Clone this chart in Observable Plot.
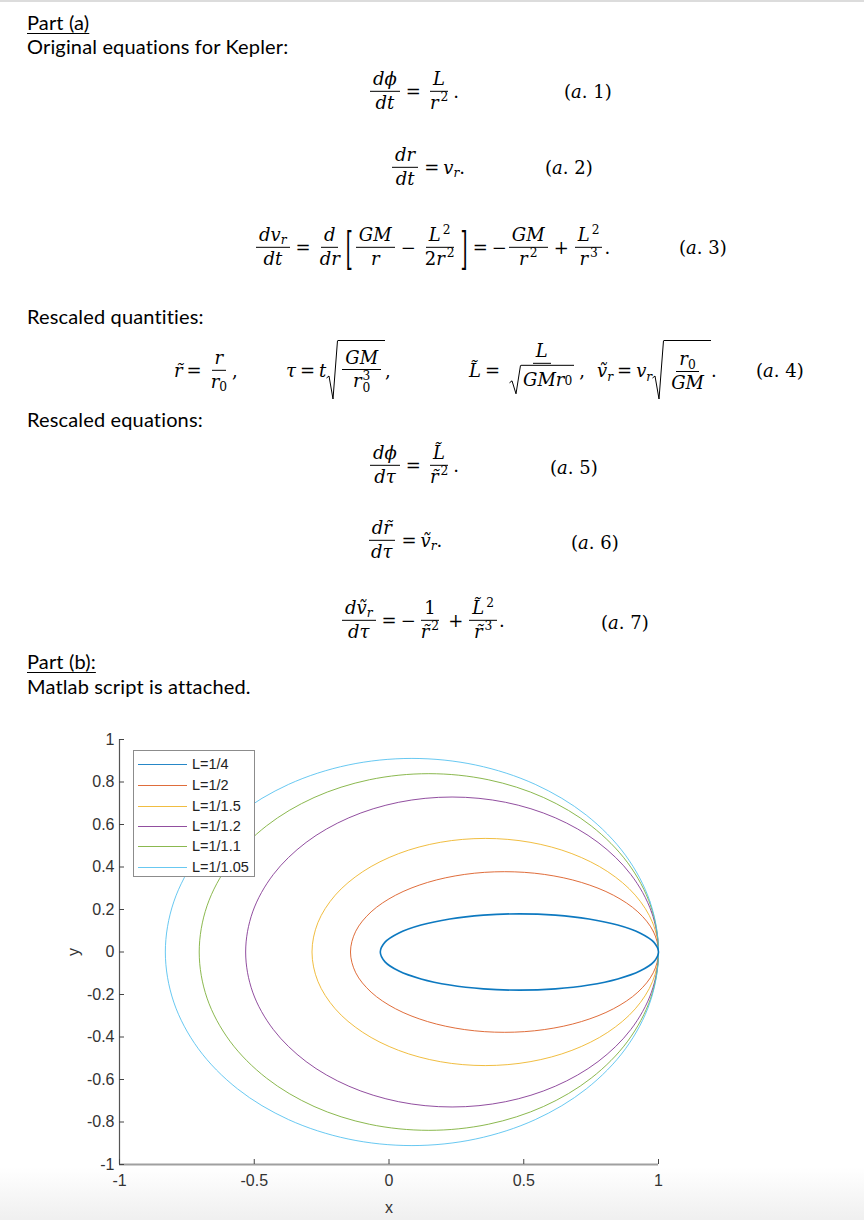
<!DOCTYPE html>
<html>
<head>
<meta charset="utf-8">
<script src="https://cdn.jsdelivr.net/npm/d3@7"></script>
<script src="https://cdn.jsdelivr.net/npm/@observablehq/plot@0.6"></script>
<style>
  html, body { margin:0; padding:0; background:#fff; }
  #page { position:relative; width:864px; height:1220px; overflow:hidden; background:#fff; border-top:2px solid #dcdcdc; box-sizing:border-box; }
  #fade { position:absolute; left:0; right:0; top:1165px; height:55px; background:linear-gradient(#ffffff, #efefef); }
  .t { position:absolute; left:27px; font-family:Lato, "Open Sans", sans-serif; font-size:20px; letter-spacing:0.15px; line-height:23px; color:#000; white-space:nowrap; }
  .ul { text-decoration:underline; text-underline-offset:3px; text-decoration-thickness:1px; }
  .eq { position:absolute; display:flex; align-items:center; transform:translateY(-50%); font-family:"DejaVu Serif", serif; font-style:italic; font-size:18px; color:#000; white-space:nowrap; }
  .u { font-style:normal; }
  .frac { display:inline-flex; flex-direction:column; align-items:center; margin:0 2px; }
  .frac > .n { padding:0 3px 1px; border-bottom:1px solid #000; line-height:1.15; }
  .frac > .d { padding:1px 3px 0; line-height:1.15; }
  .op { margin:0 4px; font-style:normal; }
  sup, sub { font-size:68%; line-height:0; }
  sup { margin-left:2px; vertical-align:0.6em; font-style:normal; }
  sub { font-style:normal; vertical-align:-0.3em; }
  .ss { display:inline-flex; flex-direction:column; font-size:68%; font-style:normal; line-height:0.95; vertical-align:0.6em; margin-left:1px; }
  .sqrt { display:inline-flex; align-items:stretch; }
  .sqrt svg { width:12px; flex:none; }
  .rc { border-top:1px solid #000; padding:1px 2px 0; display:inline-flex; align-items:center; }
  .br { font-style:normal; display:inline-block; transform:scaleY(2.5); font-weight:300; margin:0 1px; }
  .tag { position:absolute; transform:translateY(-50%); font-family:"DejaVu Serif", serif; font-size:18px; }
  #legend { position:absolute; left:133px; top:748px; width:120px; height:125px; border:1.5px solid #8c8c8c; background:#fff; }
  .lrow { position:absolute; left:4px; height:16px; display:flex; align-items:center; font-family:"Liberation Sans", Arial, sans-serif; font-size:14.5px; color:#222; }
  .lrow .sw { width:49px; height:0; border-top:1.3px solid; margin-right:5px; opacity:0.85; }
  #chart { position:absolute; left:0; top:720px; }
</style>
</head>
<body>
<div id="page">
  <div id="fade"></div>

  <div class="t ul" style="top:9px">Part (a)</div>
  <div class="t" style="top:33px">Original equations for Kepler:</div>

  <!-- (a.1) -->
  <div class="eq" style="left:368px; top:89px">
    <span class="frac"><span class="n">dϕ</span><span class="d">dt</span></span><span class="op">=</span><span class="frac"><span class="n">L</span><span class="d">r<sup>2</sup></span></span><span class="u">.</span>
  </div>
  <div class="tag" style="left:564px; top:89px">(<i>a</i>. 1)</div>

  <!-- (a.2) -->
  <div class="eq" style="left:390px; top:165px">
    <span class="frac"><span class="n">dr</span><span class="d">dt</span></span><span class="op">=</span><span>v<sub><i>r</i></sub></span><span class="u">.</span>
  </div>
  <div class="tag" style="left:545px; top:165px">(<i>a</i>. 2)</div>

  <!-- (a.3) -->
  <div class="eq" style="left:254px; top:245px">
    <span class="frac"><span class="n">dv<sub><i>r</i></sub></span><span class="d">dt</span></span><span class="op">=</span><span class="frac"><span class="n">d</span><span class="d">dr</span></span><span class="br">[</span><span class="frac"><span class="n">GM</span><span class="d">r</span></span><span class="op">−</span><span class="frac"><span class="n">L<sup>2</sup></span><span class="d"><span class="u">2</span>r<sup>2</sup></span></span><span class="br">]</span><span class="op">=</span><span class="u">−</span><span class="frac"><span class="n">GM</span><span class="d">r<sup>2</sup></span></span><span class="op">+</span><span class="frac"><span class="n">L<sup>2</sup></span><span class="d">r<sup>3</sup></span></span><span class="u">.</span>
  </div>
  <div class="tag" style="left:679px; top:245px">(<i>a</i>. 3)</div>

  <div class="t" style="top:303px">Rescaled quantities:</div>

  <!-- (a.4) -->
  <div class="eq" style="left:174px; top:368px">
    <span>r̃</span><span class="op">=</span><span class="frac"><span class="n">r</span><span class="d">r<sub>0</sub></span></span><span class="u">,</span>
  </div>
  <div class="eq" style="left:286px; top:368px">
    <span>τ</span><span class="op">=</span><span>t</span>
    <span class="sqrt"><svg viewBox="0 0 12 60" preserveAspectRatio="none"><path d="M0.5,38 L3,36 L7,59 L11.5,0.5" fill="none" stroke="#000" stroke-width="1" vector-effect="non-scaling-stroke"/></svg><span class="rc"><span class="frac"><span class="n">GM</span><span class="d">r<span class="ss"><span>3</span><span>0</span></span></span></span></span></span><span class="u">,</span>
  </div>
  <div class="eq" style="left:469px; top:368px">
    <span>L̃</span><span class="op">=</span><span class="frac"><span class="n">L</span><span class="d"><span class="sqrt"><svg viewBox="0 0 12 30" preserveAspectRatio="none"><path d="M0.5,18 L3,16 L7,29 L11.5,0.5" fill="none" stroke="#000" stroke-width="1" vector-effect="non-scaling-stroke"/></svg><span class="rc">GMr<sub>0</sub></span></span></span></span><span class="u">,</span>
  </div>
  <div class="eq" style="left:597px; top:368px">
    <span>ṽ<sub><i>r</i></sub></span><span class="op">=</span><span>v<sub><i>r</i></sub></span>
    <span class="sqrt"><svg viewBox="0 0 12 60" preserveAspectRatio="none"><path d="M0.5,38 L3,36 L7,59 L11.5,0.5" fill="none" stroke="#000" stroke-width="1" vector-effect="non-scaling-stroke"/></svg><span class="rc"><span class="frac"><span class="n">r<sub>0</sub></span><span class="d">GM</span></span></span></span><span class="u">.</span>
  </div>
  <div class="tag" style="left:756px; top:368px">(<i>a</i>. 4)</div>

  <div class="t" style="top:406px">Rescaled equations:</div>

  <!-- (a.5) -->
  <div class="eq" style="left:368px; top:463px">
    <span class="frac"><span class="n">dϕ</span><span class="d">dτ</span></span><span class="op">=</span><span class="frac"><span class="n">L̃</span><span class="d">r̃<sup>2</sup></span></span><span class="u">.</span>
  </div>
  <div class="tag" style="left:550px; top:465px">(<i>a</i>. 5)</div>

  <!-- (a.6) -->
  <div class="eq" style="left:366px; top:538px">
    <span class="frac"><span class="n">dr̃</span><span class="d">dτ</span></span><span class="op">=</span><span>ṽ<sub><i>r</i></sub></span><span class="u">.</span>
  </div>
  <div class="tag" style="left:571px; top:540px">(<i>a</i>. 6)</div>

  <!-- (a.7) -->
  <div class="eq" style="left:340px; top:618px">
    <span class="frac"><span class="n">dṽ<sub><i>r</i></sub></span><span class="d">dτ</span></span><span class="op">=</span><span class="u">−</span><span class="frac"><span class="n u">1</span><span class="d">r̃<sup>2</sup></span></span><span class="op">+</span><span class="frac"><span class="n">L̃<sup>2</sup></span><span class="d">r̃<sup>3</sup></span></span><span class="u">.</span>
  </div>
  <div class="tag" style="left:601px; top:620px">(<i>a</i>. 7)</div>

  <div class="t ul" style="top:648px">Part (b):</div>
  <div class="t" style="top:673px">Matlab script is attached.</div>

  <div id="chart"></div>
  <div id="legend"></div>
</div>

<script>
// ---- data ----
const labels = ["L=1/4", "L=1/2", "L=1/1.5", "L=1/1.2", "L=1/1.1", "L=1/1.05"];
const colors = ["#0072BD", "#D95319", "#EDB120", "#7E2F8E", "#77AC30", "#4DBEEE"];
const xTicks = [-1, -0.5, 0, 0.5, 1];
const yTicks = [-1, -0.8, -0.6, -0.4, -0.2, 0, 0.2, 0.4, 0.6, 0.8, 1];

// upper half of each orbit, from the right-hand apex (1, 0) round to the left-hand apex
const orbitL4X   = [1.0000, 0.9824, 0.9309, 0.8488, 0.7419, 0.6175, 0.4839, 0.3503, 0.2258, 0.1189, 0.0369, -0.0147, -0.0323];
const orbitL4Y   = [0, 0.0465, 0.0898, 0.1270, 0.1556, 0.1735, 0.1796, 0.1735, 0.1556, 0.1270, 0.0898, 0.0465, 0];
const orbitL2X   = [1.0000, 0.9805, 0.9234, 0.8326, 0.7143, 0.5765, 0.4286, 0.2807, 0.1429, 0.0245, -0.0663, -0.1234, -0.1429];
const orbitL2Y   = [0, 0.0978, 0.1890, 0.2673, 0.3273, 0.3651, 0.3780, 0.3651, 0.3273, 0.2673, 0.1890, 0.0978, 0];
const orbitL15X  = [1.0000, 0.9781, 0.9139, 0.8117, 0.6786, 0.5235, 0.3571, 0.1908, 0.0357, -0.0974, -0.1996, -0.2638, -0.2857];
const orbitL15Y  = [0, 0.1383, 0.2673, 0.3780, 0.4629, 0.5163, 0.5345, 0.5163, 0.4629, 0.3780, 0.2673, 0.1383, 0];
const orbitL12X  = [1.0000, 0.9739, 0.8974, 0.7757, 0.6170, 0.4323, 0.2340, 0.0358, -0.1489, -0.3076, -0.4293, -0.5058, -0.5319];
const orbitL12Y  = [0, 0.1888, 0.3647, 0.5157, 0.6316, 0.7045, 0.7293, 0.7045, 0.6316, 0.5157, 0.3647, 0.1888, 0];
const orbitL11X  = [1.0000, 0.9710, 0.8858, 0.7504, 0.5739, 0.3684, 0.1479, -0.0727, -0.2782, -0.4547, -0.5901, -0.6752, -0.7042];
const orbitL11Y  = [0, 0.2172, 0.4196, 0.5934, 0.7268, 0.8106, 0.8392, 0.8106, 0.7268, 0.5934, 0.4196, 0.2172, 0];
const orbitL105X = [1.0000, 0.9688, 0.8774, 0.7320, 0.5425, 0.3219, 0.0851, -0.1517, -0.3724, -0.5619, -0.7073, -0.7987, -0.8299];
const orbitL105Y = [0, 0.2358, 0.4555, 0.6442, 0.7889, 0.8799, 0.9110, 0.8799, 0.7889, 0.6442, 0.4555, 0.2358, 0];

const orbitsX = [orbitL4X, orbitL2X, orbitL15X, orbitL12X, orbitL11X, orbitL105X];
const orbitsY = [orbitL4Y, orbitL2Y, orbitL15Y, orbitL12Y, orbitL11Y, orbitL105Y];

// closed loops: upper half, then its mirror image below the axis
const rows = [];
labels.forEach((L, k) => {
  const X = orbitsX[k], Y = orbitsY[k];
  for (let i = 0; i < X.length; i++) rows.push({L, x: X[i], y: Y[i]});
  for (let i = X.length - 2; i >= 1; i--) rows.push({L, x: X[i], y: -Y[i]});
});

const W = 864, H = 500, mL = 119, mR = 206, mT = 17, mB = 58;
const fw = W - mL - mR, fh = H - mT - mB;
const fmt = d => String(d);

const chart = Plot.plot({
  width: W, height: H,
  marginLeft: mL, marginRight: mR, marginTop: mT, marginBottom: mB,
  style: {background: "transparent", overflow: "visible"},
  x: {domain: [-1, 1]},
  y: {domain: [-1, 1]},
  color: {domain: labels, range: colors},
  marks: [
    Plot.line(rows.filter(d => d.L !== labels[0]), {x: "x", y: "y", z: "L", stroke: "L", strokeWidth: 1, strokeOpacity: 0.85, curve: "catmull-rom-closed"}),
    Plot.line(rows.filter(d => d.L === labels[0]), {x: "x", y: "y", z: "L", stroke: "L", strokeWidth: 1.6, strokeOpacity: 0.95, curve: "catmull-rom-closed"}),
    Plot.ruleX([-1], {stroke: "#555", strokeWidth: 1.2}),
    Plot.ruleY([-1], {stroke: "#a0a0a0", strokeWidth: 2}),
    Plot.tickX(xTicks, {x: d => d, insetTop: fh - 5, stroke: "#444", strokeWidth: 1}),
    Plot.tickY(yTicks, {y: d => d, insetRight: fw - 5, stroke: "#444", strokeWidth: 1}),
    Plot.axisX(xTicks, {tickSize: 0, tickPadding: 10, tickFormat: fmt, fontSize: 16, fill: "#333",
      fontFamily: "Liberation Sans, Arial, sans-serif", label: "x", labelAnchor: "center", labelOffset: 48, labelArrow: "none"}),
    Plot.axisY(yTicks, {tickSize: 0, tickPadding: 5, tickFormat: fmt, fontSize: 16, fill: "#333",
      fontFamily: "Liberation Sans, Arial, sans-serif", label: "y", labelAnchor: "center", labelOffset: 52, labelArrow: "none"})
  ]
});
document.getElementById("chart").appendChild(chart);

// legend
const leg = document.getElementById("legend");
const rowTops = [5, 26, 47, 67, 87, 108];
labels.forEach((L, k) => {
  const r = document.createElement("div");
  r.className = "lrow";
  r.style.top = rowTops[k] + "px";
  const sw = document.createElement("span");
  sw.className = "sw";
  sw.style.borderTopColor = colors[k];
  r.appendChild(sw);
  r.appendChild(document.createTextNode(L));
  leg.appendChild(r);
});
</script>
</body>
</html>
